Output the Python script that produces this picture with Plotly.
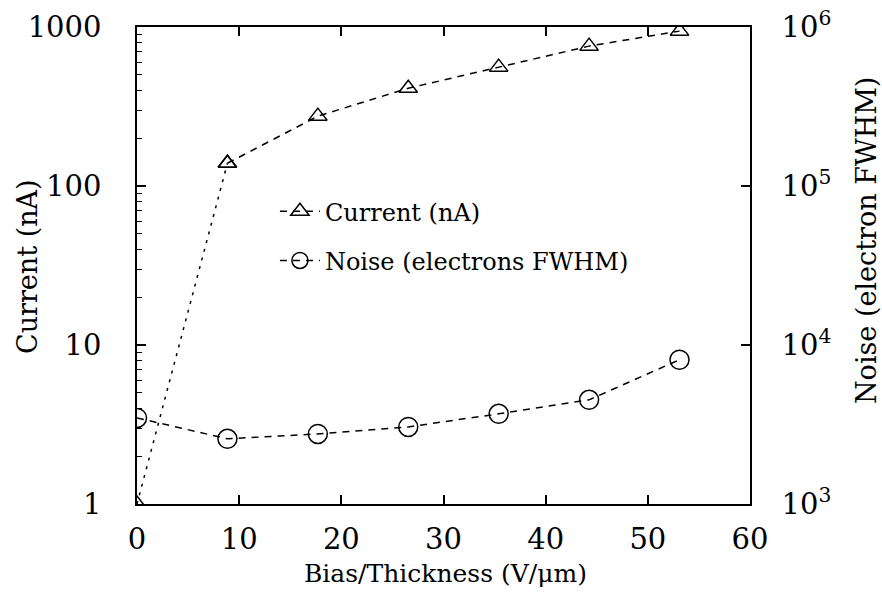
import plotly.graph_objects as go

bias = [0, 8.85, 17.7, 26.55, 35.4, 44.25, 53.1]
current_nA = [1.0, 139, 275, 412, 559, 758, 942]
noise_e = [3480, 2570, 2760, 3055, 3690, 4520, 8080]

FONT = "DejaVu Serif"
TRI = dict(symbol="triangle-up-open", size=16, color="black", line=dict(width=1.5, color="black"))
CIR = dict(symbol="circle-open", size=19, color="black", line=dict(width=1.5, color="black"))

fig = go.Figure()
fig.add_trace(go.Scatter(
    x=bias[:2], y=current_nA[:2], mode="lines+markers", showlegend=False,
    line=dict(color="black", width=1.5, dash="3px,6px"), marker=TRI, yaxis="y"))
fig.add_trace(go.Scatter(
    x=bias[1:], y=current_nA[1:], name="Current (nA)", mode="lines+markers",
    legendgroup="a",
    line=dict(color="black", width=1.5, dash="7px,6px"), marker=TRI, yaxis="y"))
fig.add_trace(go.Scatter(
    x=bias, y=noise_e, name="Noise (electrons FWHM)", mode="lines+markers",
    legendgroup="b",
    line=dict(color="black", width=1.5, dash="7px,6px"), marker=CIR, yaxis="y2"))

fig.update_layout(
    width=882, height=592,
    margin=dict(l=137, r=132, t=27, b=88, autoexpand=False),
    paper_bgcolor="white", plot_bgcolor="white",
    font=dict(family=FONT, color="black", size=24),
    showlegend=True,
    legend=dict(x=0.225, y=0.66, xanchor="left", yanchor="top",
                bgcolor="rgba(0,0,0,0)", font=dict(size=24, family=FONT, color="black"),
                traceorder="grouped", tracegroupgap=15, itemwidth=40),
    xaxis=dict(range=[0, 60], tickvals=[0, 10, 20, 30, 40, 50, 60],
               ticks="inside", ticklen=9, tickwidth=1.5, tickcolor="black",
               showline=True, linecolor="black", linewidth=1.5, mirror="ticks",
               showgrid=False, zeroline=False, automargin=False,
               ticklabelstandoff=8,
               tickfont=dict(size=29, family=FONT, color="black")),
    yaxis=dict(type="log", range=[0, 3], tickvals=[1, 10, 100, 1000],
               ticktext=["1", "10", "100", "1000"],
               ticks="inside", ticklen=9, tickwidth=1.5, tickcolor="black",
               minor=dict(ticks="inside", ticklen=5, tickcolor="black", tickwidth=1,
                          dtick="D1", showgrid=False),
               showline=True, linecolor="black", linewidth=1.5,
               showgrid=False, zeroline=False, automargin=False,
               ticklabelstandoff=28,
               tickfont=dict(size=29, family=FONT, color="black")),
    yaxis2=dict(type="log", range=[3, 6], overlaying="y", side="right",
                tickvals=[1e3, 1e4, 1e5, 1e6],
                ticktext=["10<sup>3</sup>", "10<sup>4</sup>", "10<sup>5</sup>", "10<sup>6</sup>"],
                ticks="inside", ticklen=9, tickwidth=1.5, tickcolor="black",
                showline=True, linecolor="black", linewidth=1.5,
                showgrid=False, zeroline=False, automargin=False,
                ticklabelstandoff=24,
                tickfont=dict(size=29, family=FONT, color="black")),
    annotations=[
        dict(text="Bias/Thickness (V/μm)", xref="paper", yref="paper",
             x=(445 - 137) / 613, y=(504 - 573) / 477, showarrow=False,
             xanchor="center", yanchor="middle",
             font=dict(size=25, family=FONT, color="black")),
        dict(text="Current (nA)", xref="paper", yref="paper",
             x=(27 - 137) / 613, y=(504 - 267) / 477, showarrow=False, textangle=-90,
             xanchor="center", yanchor="middle",
             font=dict(size=27, family=FONT, color="black")),
        dict(text="Noise (electron FWHM)", xref="paper", yref="paper",
             x=(866 - 137) / 613, y=(504 - 241) / 477, showarrow=False, textangle=-90,
             xanchor="center", yanchor="middle",
             font=dict(size=27, family=FONT, color="black")),
    ],
)

fig.write_html("out.html")
